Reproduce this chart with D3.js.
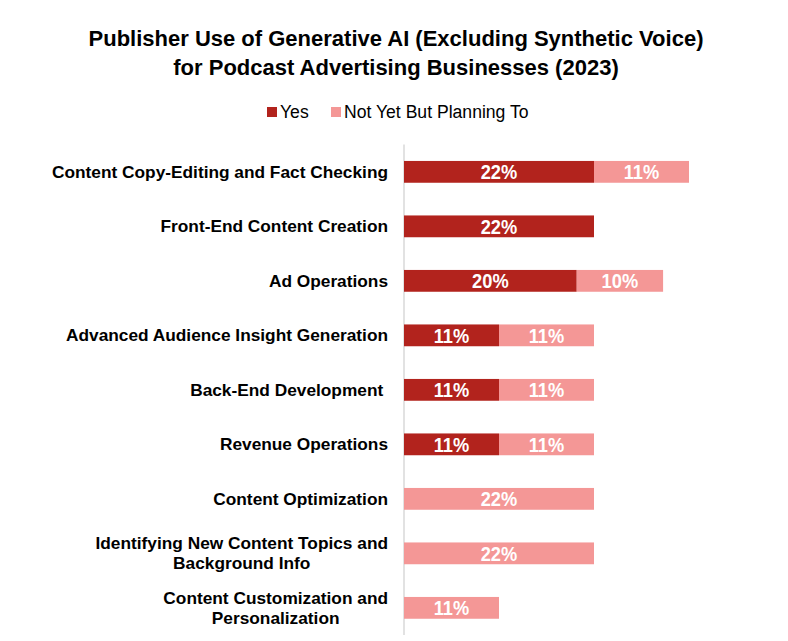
<!DOCTYPE html>
<html><head><meta charset="utf-8">
<script src="https://cdn.jsdelivr.net/npm/d3@7"></script>
<style>body{margin:0;background:#fff}svg{display:block}text{font-family:"Liberation Sans",Arial,sans-serif}</style>
</head><body>
<script>
const categories = [
  ["Content Copy-Editing and Fact Checking"],
  ["Front-End Content Creation"],
  ["Ad Operations"],
  ["Advanced Audience Insight Generation"],
  ["Back-End Development\u00a0"],
  ["Revenue Operations"],
  ["Content Optimization"],
  ["Identifying New Content Topics and", "Background Info"],
  ["Content Customization and", "Personalization"]
];
const yesValues = [22, 22, 20, 11, 11, 11, 0, 0, 0];
const planValues = [11, 0, 10, 11, 11, 11, 22, 22, 11];
const seriesNames = ["Yes", "Not Yet But Planning To"];
const colors = ["#b2231d", "#f49796"];
const titleLines = ["Publisher Use of Generative AI (Excluding Synthetic Voice)", "for Podcast Advertising Businesses (2023)"];

const W = 788, H = 641;
const svg = d3.select("body").append("svg").attr("width", W).attr("height", H);

svg.selectAll("text.title").data(titleLines).join("text")
  .attr("class","title").attr("x", 396).attr("y", (d,i)=>46+i*29)
  .attr("text-anchor","middle").attr("font-size",22).attr("font-weight","bold").attr("fill","#000")
  .text(d=>d);

// legend
const legend = [{name:seriesNames[0], x:267, c:colors[0]},{name:seriesNames[1], x:331, c:colors[1]}];
const lg = svg.selectAll("g.lg").data(legend).join("g").attr("class","lg").attr("transform",d=>`translate(${d.x},0)`);
lg.append("rect").attr("x",0).attr("y",107).attr("width",10).attr("height",10).attr("fill",d=>d.c);
lg.append("text").attr("x",13).attr("y",118).attr("font-size",17.6).attr("fill","#000").text(d=>d.name);

const x = d3.scaleLinear().domain([0,22]).range([404,594]);
const y = d3.scaleBand().domain(d3.range(categories.length)).range([144.6,635.1]).paddingInner(0.6).paddingOuter(0.3);

svg.append("line").attr("x1",404).attr("x2",404).attr("y1",144.6).attr("y2",635.1)
  .attr("stroke","#d9d9d9").attr("stroke-width",1.5);

const rows = categories.map((c,i)=>({i, c, yes:yesValues[i], plan:planValues[i]}));

// category labels
const lab = svg.selectAll("text.cat").data(rows).join("text").attr("class","cat")
  .attr("font-size",17.3).attr("font-weight","bold").attr("fill","#000").attr("text-anchor","middle");
lab.each(function(d){
  const t = d3.select(this);
  const n = d.c.length;
  const cy = y(d.i) + y.bandwidth()/2;
  d.c.forEach((line,k)=>{
    t.append("tspan").attr("y", cy + (k - (n-1)/2)*20 + 5.8).text(line);
  });
});
lab.each(function(d){
  const t = d3.select(this);
  const widths = [];
  t.selectAll("tspan").each(function(){ widths.push(this.getComputedTextLength()); });
  const maxW = d3.max(widths);
  const right = 388;
  t.selectAll("tspan").attr("x", right - maxW/2);
});

// bars
const segs = [];
rows.forEach(r=>{
  if (r.yes>0) segs.push({i:r.i, x0:0, x1:r.yes, v:r.yes, c:colors[0]});
  if (r.plan>0) segs.push({i:r.i, x0:r.yes, x1:r.yes+r.plan, v:r.plan, c:colors[1]});
});
svg.selectAll("rect.bar").data(segs).join("rect").attr("class","bar")
  .attr("x",d=>x(d.x0)).attr("width",d=>x(d.x1)-x(d.x0))
  .attr("y",d=>y(d.i)).attr("height",y.bandwidth()).attr("fill",d=>d.c);
svg.selectAll("text.val").data(segs).join("text").attr("class","val")
  .attr("transform",d=>`translate(${(x(d.x0)+x(d.x1))/2},${y(d.i)+y.bandwidth()/2+7.5}) scale(1,1.12)`)
  .attr("text-anchor","middle").attr("font-size",18.3).attr("font-weight","bold").attr("fill","#fff")
  .text(d=>d.v+"%");
</script>
</body></html>
